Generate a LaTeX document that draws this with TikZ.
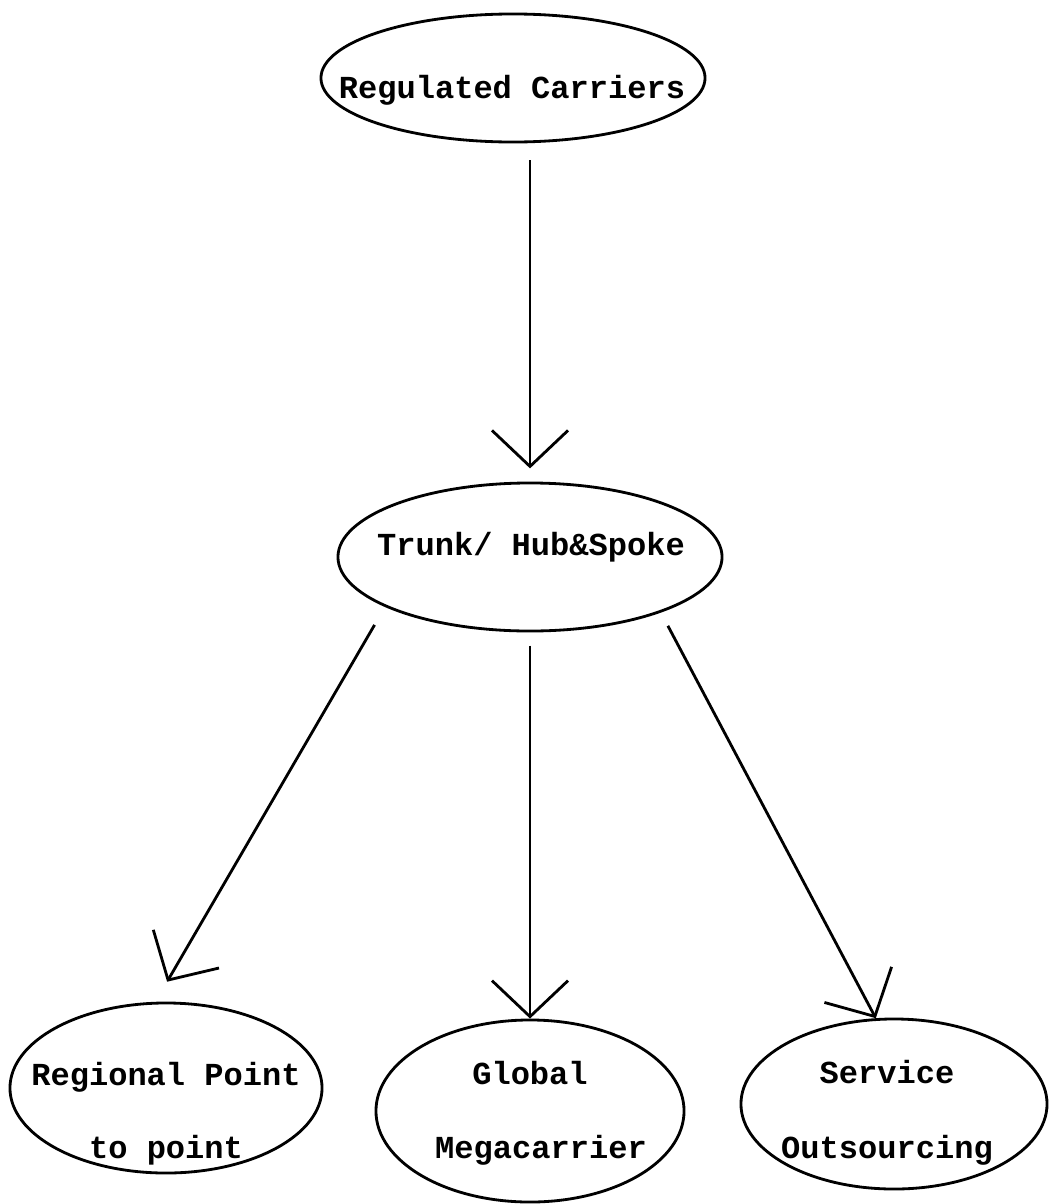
\documentclass[tikz,border=0pt]{standalone}
\usepackage{fontspec}
\setmonofont{Liberation Mono}
\usetikzlibrary{shapes.geometric, arrows.meta, positioning}

\begin{document}
\begin{tikzpicture}[x=0.025cm, y=-0.025cm, line width=2pt,
  >={Straight Barb[length=0.9cm, width=1.9cm]},
  oval/.style={draw, ellipse, inner sep=0pt},
  lbl/.style={anchor=base, inner sep=0pt, font=\ttfamily\bfseries\fontsize{22.8}{27}\selectfont}]
  \useasboundingbox (0,0) rectangle (1049,1204);

  % ovals, centres given in pixels of the sketch
  \node[oval, minimum width=9.6cm, minimum height=3.2cm] at (513,78) (regulated) {};
  \node[oval, minimum width=9.6cm, minimum height=3.7cm] at (530,557) (trunk) {};
  \node[oval, minimum width=7.8cm, minimum height=4.25cm] at (166,1088) (regional) {};
  \node[oval, minimum width=7.7cm, minimum height=4.55cm] at (530,1111) (global) {};
  \node[oval, minimum width=7.65cm, minimum height=4.25cm] at (894,1104) (service) {};

  \node[lbl] at (512,98) (lbl-regulated) {Regulated Carriers};
  \node[lbl] at (531,555) (lbl-trunk) {Trunk/ Hub\&Spoke};
  \node[lbl] at (166,1085) (lbl-regional-1) {Regional Point};
  \node[lbl] at (166,1158) (lbl-regional-2) {to point};
  \node[lbl] at (530,1084) (lbl-global-1) {Global};
  \node[lbl] at (541,1158) (lbl-global-2) {Megacarrier};
  \node[lbl] at (887,1083) (lbl-service-1) {Service};
  \node[lbl] at (887,1158) (lbl-service-2) {Outsourcing};

  \draw[->, shorten <=0.42cm, shorten >=0.33cm] (trunk.north |- regulated.south) -- (trunk.north);
  \draw[->, shorten <=0.52cm, shorten >=0.58cm] (trunk.199.5) -- (regional.97);
  \draw[->, shorten <=0.33cm] (trunk.south) -- (global.north);
  \draw[->, shorten <=0.375cm] (trunk.337) -- (service.102);
\end{tikzpicture}
\end{document}
